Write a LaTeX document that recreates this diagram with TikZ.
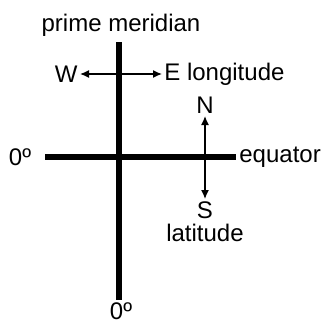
\documentclass[tikz,border=0pt]{standalone}
\usepackage{fontspec}
\setmainfont{Liberation Sans}
\usetikzlibrary{arrows.meta}
\begin{document}
\begin{tikzpicture}[x=0.5pt,y=-0.5pt,
  lbl/.style={inner sep=1pt, font=\fontsize{12}{14}\selectfont},
  axis/.style={line width=3pt},
  dir/.style={line width=0.7pt, {Latex[length=4.5pt,width=4pt]}-{Latex[length=4.5pt,width=4pt]}}]
\useasboundingbox (0,0) rectangle (327,322);
\node[lbl] (pm) at (121,25) {prime meridian};
\coordinate (mtop) at (119,42);
\coordinate (mbot) at (119,300);
\node[lbl] (zb) at (121,311) {0º};
\node[lbl] (zl) at (20,157) {0º};
\coordinate (ewest) at (45,157);
\coordinate (eeast) at (236,157);
\node[lbl, anchor=west] (eq) at (237,157) {equator};
\node[lbl, anchor=east] (w) at (80,74) {W};
\node[lbl, anchor=west] (e) at (162,74) {E longitude};
\node[lbl, anchor=south] (n) at (205,116) {N};
\node[lbl, anchor=north] (s) at (205,199) {S};
\node[lbl, anchor=north] (lat) at (205,222) {latitude};
\draw[axis] (mtop) -- (mbot);
\draw[axis] (ewest) -- (eeast);
\draw[dir] (w) -- (e);
\draw[dir] (n) -- (s);
\end{tikzpicture}
\end{document}
